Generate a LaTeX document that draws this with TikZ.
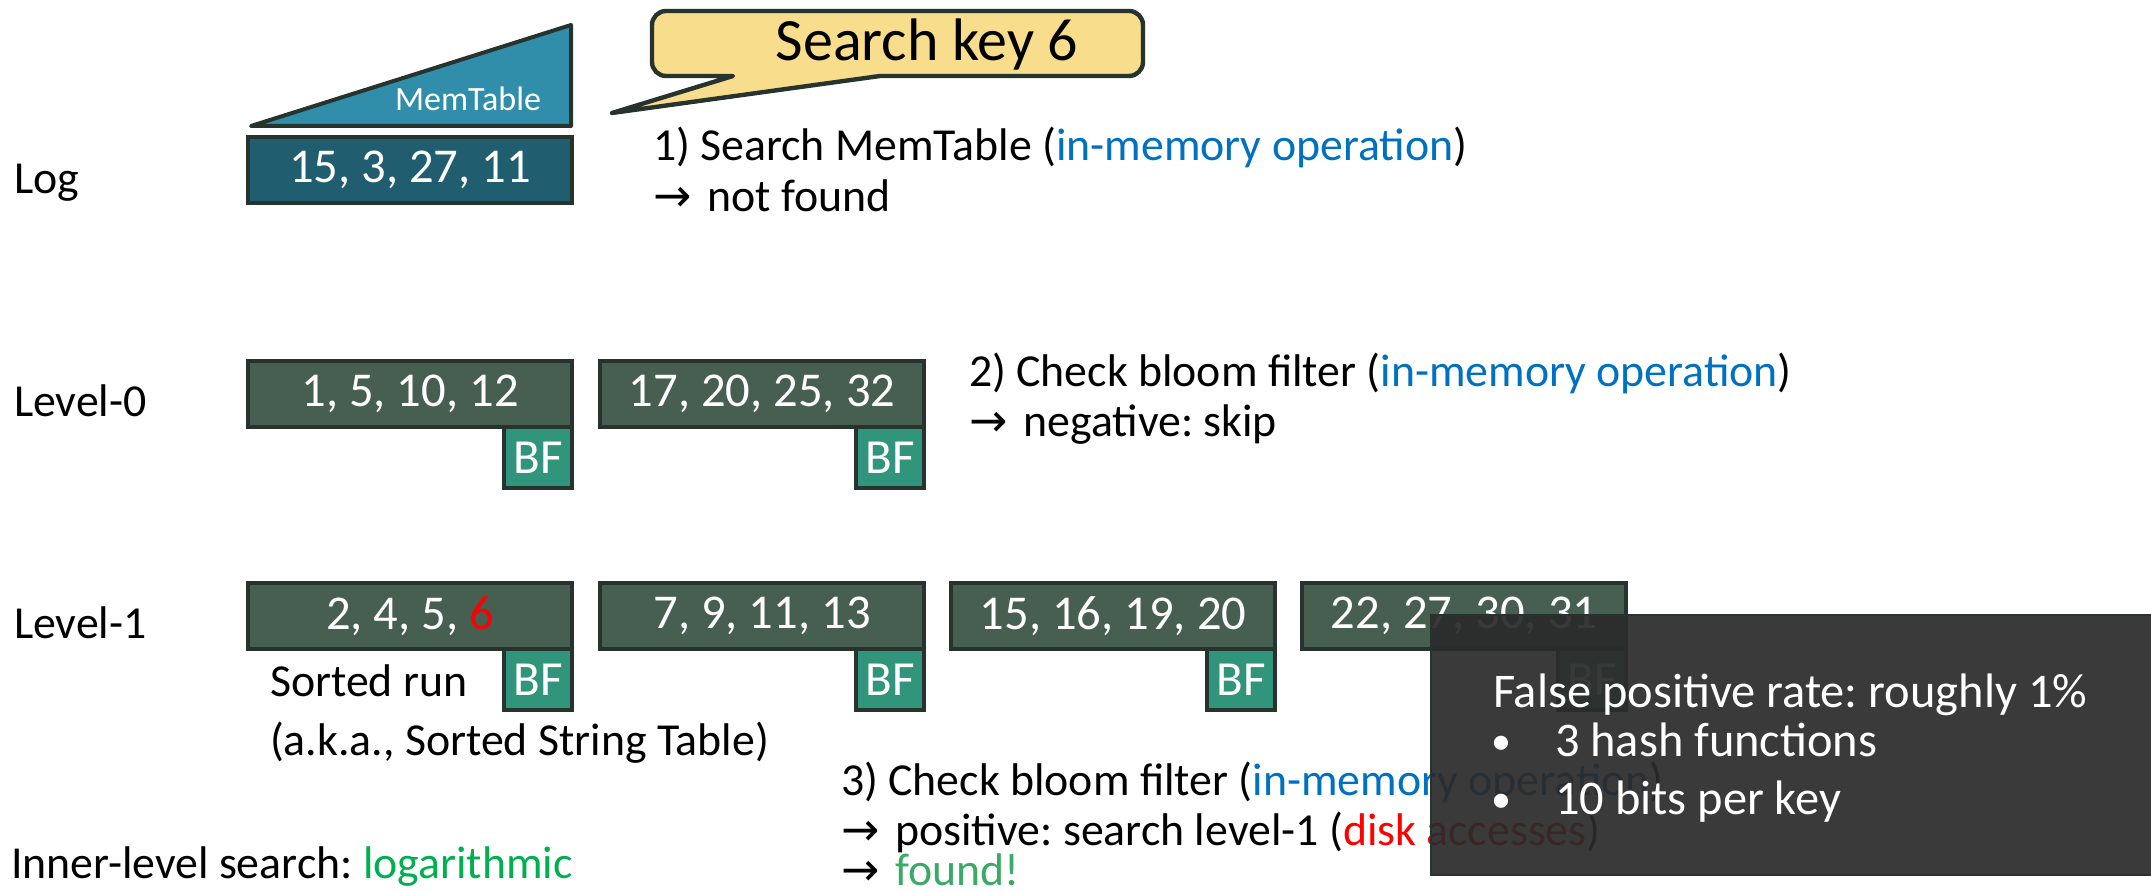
\documentclass[tikz,border=0pt]{standalone}
\usepackage{fontspec}
\setmainfont{Carlito}
\newfontfamily\symfont{DejaVu Sans}
\frenchspacing
\definecolor{edge}{HTML}{27332D}
\definecolor{memfill}{HTML}{318EAA}
\definecolor{logfill}{HTML}{1F5D6F}
\definecolor{runfill}{HTML}{475F50}
\definecolor{bffill}{HTML}{31957B}
\definecolor{bubblefill}{HTML}{F8DD8C}
\definecolor{memblue}{HTML}{0070C0}
\definecolor{keyred}{HTML}{FF0000}
\definecolor{loggreen}{HTML}{00B050}
\definecolor{foundgreen}{HTML}{3CAA66}
\definecolor{notefill}{HTML}{2B2B2B}
\newcommand{\rarr}{{\symfont →}\hspace{0.35em}}
\tikzset{
  every node/.style={inner sep=0pt, outer sep=0pt},
  txt/.style={anchor=base west, font=\fontsize{22.9}{27}\selectfont},
  runbox/.style={draw=edge, line width=2pt, fill=runfill, text=white,
    minimum width=162pt, minimum height=33pt, anchor=north west,
    font=\fontsize{24.3}{28}\selectfont},
  logbox/.style={runbox, fill=logfill},
  bfbox/.style={draw=edge, line width=2pt, fill=bffill, text=white,
    minimum width=34pt, minimum height=30.5pt, anchor=north east,
    font=\fontsize{24.5}{28}\selectfont},
  notebox/.style={draw=edge, line width=1pt, fill=notefill, fill opacity=0.93,
    anchor=north west, minimum width=365pt, minimum height=130pt},
  notetxt/.style={anchor=base west, text=white, font=\fontsize{24.2}{28}\selectfont},
  notedot/.style={anchor=base, text=white, font=\fontsize{20}{24}\selectfont},
}
\begin{document}
\begin{tikzpicture}[x=0.5pt, y=-0.5pt]
\useasboundingbox (0,0) rectangle (2151,892);

% level labels
\node[txt] (lLog) at (14,194) {Log};
\node[txt] (lL0) at (14,417) {Level-0};
\node[txt] (lL1) at (14,638) {Level-1};

% memtable wedge and write-ahead log
\draw[draw=edge, line width=2pt, fill=memfill, line join=round] (251,126) -- (571,25) -- (571,126) -- cycle;
\node[text=white, font=\fontsize{17}{20}\selectfont] (memlbl) at (468,99) {MemTable};
\node[logbox] (logrun) at (248,137) {15, 3, 27, 11};

% search key bubble
\draw[draw=edge, line width=2.2pt, fill=bubblefill, line join=round]
  (652,45) [rounded corners=7pt] -- (652,11) -- (1143,11) -- (1143,76)
  [sharp corners] -- (880,76) -- (612,113) -- (733,76)
  [rounded corners=7pt] -- (652,76) -- cycle;
\node[font=\fontsize{30}{34}\selectfont] (key) at (927,45) {Search key 6};

\node[txt] (s1a) at (653,161) {1) Search MemTable (\textcolor{memblue}{in-memory operation})};
\node[txt] (s1b) at (653,212) {\rarr not found};

% level 0
\node[runbox] (r01) at (248,361) {1, 5, 10, 12};
\node[bfbox] (b01) at (r01.south east) {BF};
\node[runbox] (r02) at (600,361) {17, 20, 25, 32};
\node[bfbox] (b02) at (r02.south east) {BF};

\node[txt] (s2a) at (969,387) {2) Check bloom filter (\textcolor{memblue}{in-memory operation})};
\node[txt] (s2b) at (969,437) {\rarr negative: skip};

% level 1
\node[runbox] (r11) at (248,583) {2, 4, 5, \textcolor{keyred}{6}};
\node[bfbox] (b11) at (r11.south east) {BF};
\node[runbox] (r12) at (600,583) {7, 9, 11, 13};
\node[bfbox] (b12) at (r12.south east) {BF};
\node[runbox] (r13) at (951,583) {15, 16, 19, 20};
\node[bfbox] (b13) at (r13.south east) {BF};
\node[runbox] (r14) at (1302,583) {22, 27, 30, 31};
\node[bfbox] (b14) at (r14.south east) {BF};

\node[txt] (sr1) at (270,696) {Sorted run};
\node[txt] (sr2) at (270,755) {(a.k.a., Sorted String Table)};

\node[txt] (s3a) at (841,795) {3) Check bloom filter (\textcolor{memblue}{in-memory operation})};
\node[txt] (s3b) at (841,845) {\rarr positive: search level-1 (\textcolor{keyred}{disk accesses})};
\node[txt] (s3c) at (841,885) {\rarr \textcolor{foundgreen}{found!}};

\node[txt] (inner) at (11,878) {Inner-level search: \textcolor{loggreen}{logarithmic}};

% bloom filter note
\node[notebox] (note) at (1431,615) {};
\node[notetxt] (n1) at (1493,707) {False positive rate: roughly 1\%};
\node[notedot] (n2d) at (1501,754) {•};
\node[notetxt] (n2) at (1555,756) {3 hash functions};
\node[notedot] (n3d) at (1501,812) {•};
\node[notetxt] (n3) at (1555,814) {10 bits per key};
\end{tikzpicture}
\end{document}
